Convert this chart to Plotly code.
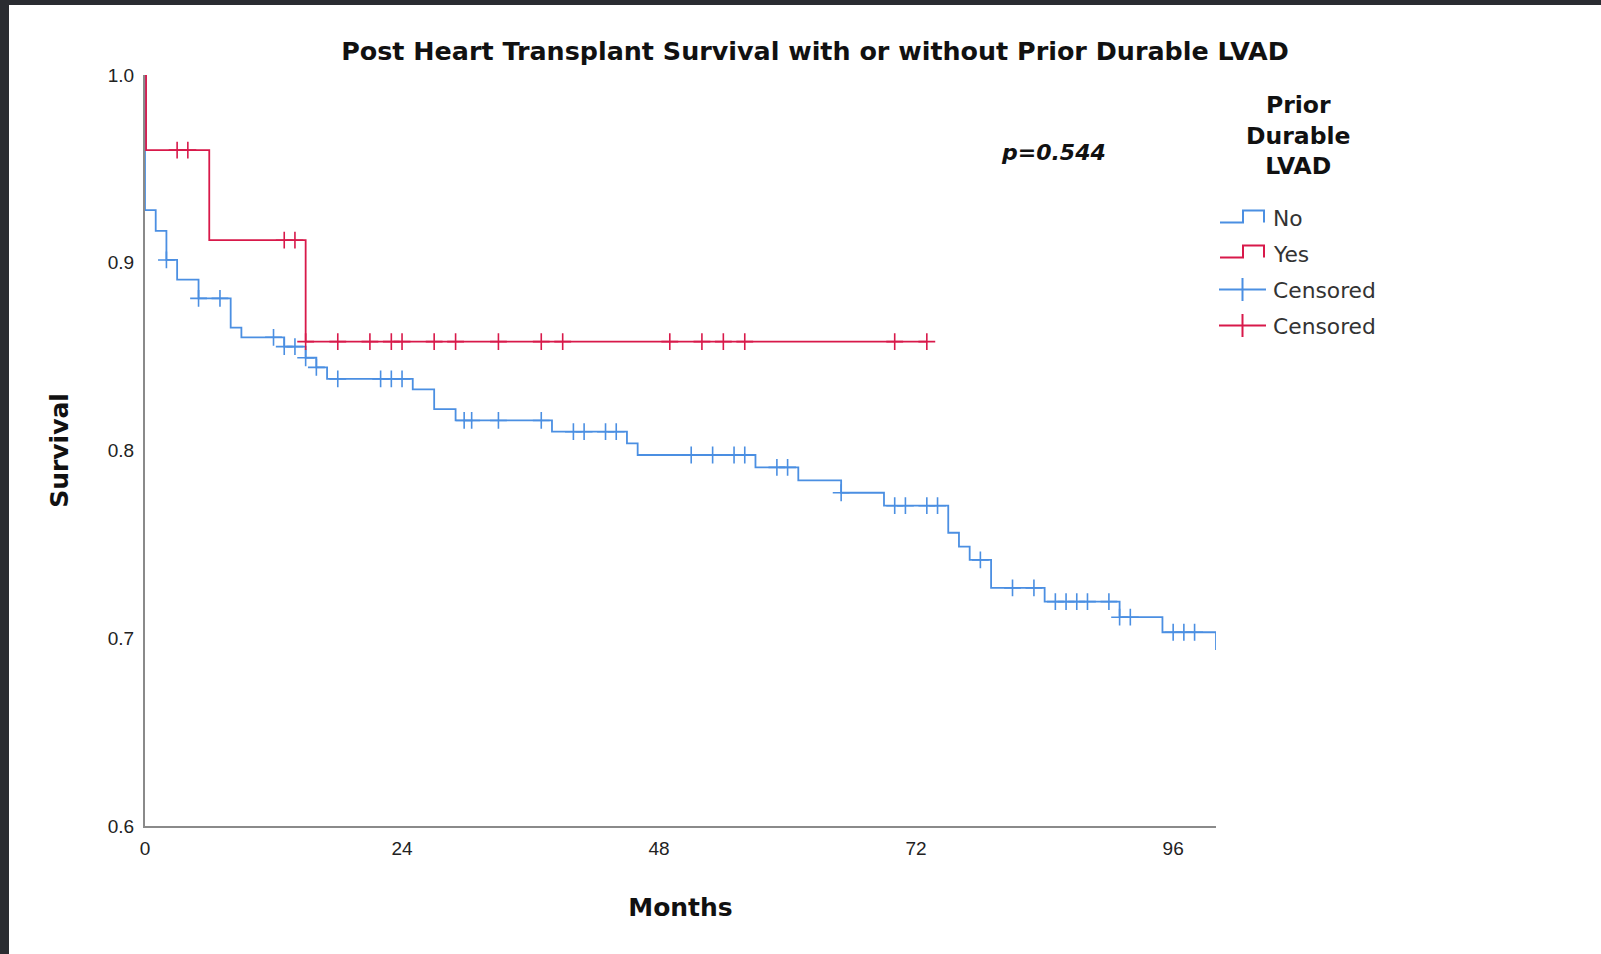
import plotly.graph_objects as go

# ---------------- data ----------------
month_ticks = [0, 24, 48, 72, 96]
surv_ticks = [0.6, 0.7, 0.8, 0.9, 1.0]
surv_tick_labels = ["0.6", "0.7", "0.8", "0.9", "1.0"]

# Group "No" (no prior durable LVAD): event times and survival after each event
no_event_months = [0.0, 1.0, 2.0, 3.0, 5.0, 8.0, 9.0, 13.0, 15.0, 16.0, 17.0, 25.0, 27.0,
                   29.0, 38.0, 45.0, 46.0, 57.0, 61.0, 65.0, 69.0, 75.0, 76.0, 77.0, 79.0,
                   84.0, 91.0, 95.0, 100.0]
no_event_surv = [0.928, 0.917, 0.9015, 0.891, 0.881, 0.8654, 0.8603, 0.8553, 0.8494, 0.8443,
                 0.8381, 0.8326, 0.822, 0.816, 0.810, 0.8038, 0.7976, 0.791, 0.7841, 0.7775,
                 0.7706, 0.7562, 0.7488, 0.7417, 0.7268, 0.7195, 0.7112, 0.7032, 0.6937]
no_censor_months = [2.0, 5.0, 7.0, 12.0, 13.0, 14.0, 15.0, 16.0, 18.0, 22.0, 23.0, 24.0,
                    29.8, 30.5, 33.0, 37.0, 40.0, 41.0, 43.0, 44.0, 51.0, 53.0, 55.0, 56.0,
                    59.0, 60.0, 65.0, 70.0, 71.0, 73.0, 74.0, 78.0, 81.0, 83.0, 85.0, 86.0,
                    87.0, 88.0, 90.0, 91.0, 92.0, 96.0, 97.0, 98.0]

# Group "Yes" (prior durable LVAD)
yes_event_months = [0.1, 6.0, 15.0]
yes_event_surv = [0.96, 0.912, 0.858]
yes_censor_months = [3.0, 4.0, 13.0, 14.0, 15.0, 18.0, 21.0, 23.0, 24.0, 27.0, 29.0, 33.0,
                     37.0, 39.0, 49.0, 52.0, 54.0, 56.0, 70.0, 73.0]

p_value_text = "p=0.544"

# ---------------- styles ----------------
BLUE = "#4b8fe2"
RED = "#d8194a"
AXIS = "#8a8a8a"
BOLD_FONT = "DejaVu Sans"
TICK_FONT = "Liberation Sans, Arial, sans-serif"

W, H = 1601, 954
L, R, T, B = 145, 1216, 75, 826


def px(x):
    return (x - L) / (R - L)


def py(y):
    return (B - y) / (B - T)


def km_line(ev_t, ev_s, cens):
    end = max(max(ev_t), max(cens))
    x = [0.0] + list(ev_t)
    y = [1.0] + list(ev_s)
    if end > max(ev_t):
        x.append(end)
        y.append(ev_s[-1])
    return x, y


def level_at(t, ev_t, ev_s):
    s = 1.0
    for et, es in zip(ev_t, ev_s):
        if et <= t:
            s = es
    return s


fig = go.Figure()

nx, ny = km_line(no_event_months, no_event_surv, no_censor_months)
yx, yy = km_line(yes_event_months, yes_event_surv, yes_censor_months)

fig.add_trace(go.Scatter(x=nx, y=ny, mode="lines", line=dict(color=BLUE, width=1.8, shape="hv"),
                         name="No", showlegend=False, cliponaxis=False))
fig.add_trace(go.Scatter(x=yx, y=yy, mode="lines", line=dict(color=RED, width=1.8, shape="hv"),
                         name="Yes", showlegend=False, cliponaxis=False))
fig.add_trace(go.Scatter(
    x=no_censor_months,
    y=[level_at(t, no_event_months, no_event_surv) for t in no_censor_months],
    mode="markers", name="Censored", showlegend=False, cliponaxis=False,
    marker=dict(symbol="cross-thin", size=12, color=BLUE, line=dict(color=BLUE, width=1.6))))
fig.add_trace(go.Scatter(
    x=yes_censor_months,
    y=[level_at(t, yes_event_months, yes_event_surv) for t in yes_censor_months],
    mode="markers", name="Censored", showlegend=False, cliponaxis=False,
    marker=dict(symbol="cross-thin", size=12, color=RED, line=dict(color=RED, width=1.6))))

shapes = []
# dark frame strips (left and top) like the screenshot border
shapes.append(dict(type="rect", xref="paper", yref="paper", x0=px(-5), x1=px(9), y0=py(H + 5), y1=py(-5),
                   fillcolor="#2a2c31", line=dict(width=0), layer="below"))
shapes.append(dict(type="rect", xref="paper", yref="paper", x0=px(-5), x1=px(W + 5), y0=py(5), y1=py(-5),
                   fillcolor="#2a2c31", line=dict(width=0), layer="below"))


# manual legend icons
def step_icon(y_low, y_high, color):
    path = (f"M {px(1220)},{py(y_low)} L {px(1243)},{py(y_low)} L {px(1243)},{py(y_high)} "
            f"L {px(1264)},{py(y_high)} L {px(1264)},{py(y_low)}")
    return dict(type="path", xref="paper", yref="paper", path=path,
                line=dict(color=color, width=2))


shapes.append(step_icon(222.5, 210.5, BLUE))
shapes.append(step_icon(257.5, 245.5, RED))
for yc, col in [(289.5, BLUE), (325.5, RED)]:
    shapes.append(dict(type="line", xref="paper", yref="paper", x0=px(1219), x1=px(1266),
                       y0=py(yc), y1=py(yc), line=dict(color=col, width=2)))
    shapes.append(dict(type="line", xref="paper", yref="paper", x0=px(1242.5), x1=px(1242.5),
                       y0=py(yc - 11.5), y1=py(yc + 11.5), line=dict(color=col, width=2)))

annotations = []
for txt, yc in [("No", 219), ("Yes", 254.5), ("Censored", 290.5), ("Censored", 326.5)]:
    annotations.append(dict(text=txt, xref="paper", yref="paper", x=px(1271), y=py(yc),
                            xanchor="left", yanchor="middle", showarrow=False,
                            font=dict(family=BOLD_FONT, size=21.8, color="#333333")))
annotations.append(dict(text="<b>Prior<br>Durable<br>LVAD</b>", xref="paper", yref="paper",
                        x=px(1298), y=py(135.5), xanchor="center", yanchor="middle", align="center",
                        showarrow=False, font=dict(family=BOLD_FONT, size=23.5, color="#111111")))
annotations.append(dict(text=f"<b><i>{p_value_text}</i></b>", xref="paper", yref="paper",
                        x=px(1053), y=py(152), xanchor="center", yanchor="middle", showarrow=False,
                        font=dict(family=BOLD_FONT, size=22, color="#111111")))

fig.update_layout(
    width=W, height=H,
    margin=dict(l=L, r=W - R, t=T, b=H - B),
    paper_bgcolor="white", plot_bgcolor="white",
    showlegend=False,
    title=dict(text="<b>Post Heart Transplant Survival with or without Prior Durable LVAD</b>",
               x=815 / W, xanchor="center", y=1 - 51 / H, yanchor="middle", yref="container",
               font=dict(family=BOLD_FONT, size=25.4, color="#111111")),
    xaxis=dict(range=[0, 100], tickvals=month_ticks, ticktext=[str(v) for v in month_ticks],
               showline=True, linecolor=AXIS, linewidth=2, showgrid=False, zeroline=False,
               ticks="", ticklabelstandoff=4, layer="below traces",
               tickfont=dict(family=TICK_FONT, size=19, color="#222222"),
               title=dict(text="<b>Months</b>", standoff=41,
                          font=dict(family=BOLD_FONT, size=25, color="#111111"))),
    yaxis=dict(range=[0.6, 1.0], tickvals=surv_ticks, ticktext=surv_tick_labels,
               showline=True, linecolor=AXIS, linewidth=2, showgrid=False, zeroline=False,
               ticks="", ticklabelstandoff=5, layer="below traces",
               tickfont=dict(family=TICK_FONT, size=19, color="#222222"),
               title=dict(text="<b>Survival</b>", standoff=32,
                          font=dict(family=BOLD_FONT, size=25, color="#111111"))),
    shapes=shapes,
    annotations=annotations,
)

fig.write_html("out.html", config={"displayModeBar": False},
               post_script="document.body.style.margin='0px';document.body.style.overflow='hidden';")
